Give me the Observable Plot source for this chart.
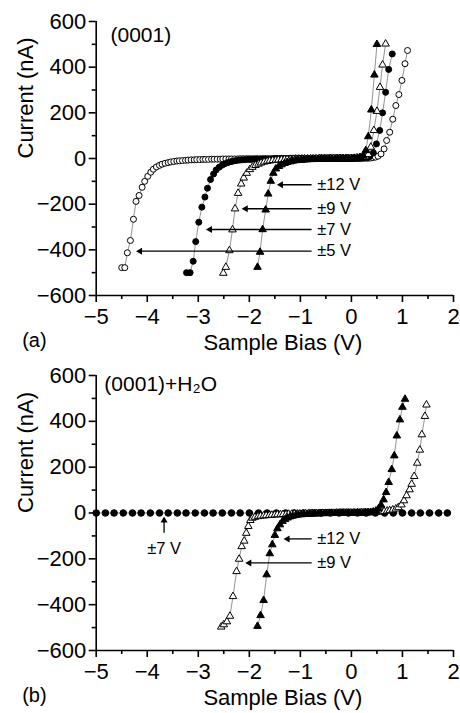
<!DOCTYPE html>
<html><head><meta charset="utf-8">
<script src="https://cdn.jsdelivr.net/npm/d3@7"></script>
<script src="https://cdn.jsdelivr.net/npm/@observablehq/plot@0.6"></script>
<style>
body{margin:0;background:#fff;}
#chart{width:460px;}
#chart svg{display:block;}
</style></head><body><div id="chart"></div>
<script>
// ---- axes ----
const biasTicks = [-5,-4,-3,-2,-1,0,1,2];
const biasMinorTicks = [-4.5,-3.5,-2.5,-1.5,-0.5,0.5,1.5];
const currentTicks = [-600,-400,-200,0,200,400,600];
const currentMinorTicks = [-500,-300,-100,100,300,500];

// ---- panel (a): (0001) ----  [bias V, current nA]
const a_pm5V = [[-4.50,-478],[-4.44,-478],[-4.39,-413],[-4.33,-359],[-4.27,-266],[-4.22,-188],[-4.16,-162],[-4.10,-126],[-4.05,-100],[-3.99,-78],[-3.93,-60],[-3.88,-47],[-3.82,-37],[-3.76,-30],[-3.71,-25],[-3.65,-21],[-3.59,-18],[-3.54,-15],[-3.48,-13],[-3.42,-11],[-3.37,-10],[-3.31,-9],[-3.25,-8],[-3.20,-7],[-3.14,-6],[-3.08,-6],[-3.03,-5],[-2.97,-5],[-2.91,-4],[-2.86,-4],[-2.80,-4],[-2.74,-3],[-2.69,-3],[-2.63,-3],[-2.57,-3],[-2.52,-2],[-2.46,-2],[-2.40,-2],[-2.35,-2],[-2.29,-2],[-2.23,-2],[-2.18,-1],[-2.12,-1],[-2.06,-1],[-2.01,-1],[-1.95,-1],[-1.89,-1],[-1.84,-1],[-1.78,-1],[-1.72,-1],[-1.67,-1],[-1.61,-1],[-1.55,-1],[-1.50,0],[-1.44,0],[-1.38,0],[-1.33,0],[-1.27,0],[-1.21,0],[-1.16,0],[-1.10,0],[-1.04,0],[-0.99,0],[-0.93,0],[-0.87,0],[-0.82,0],[-0.76,0],[-0.70,0],[-0.65,0],[-0.59,0],[-0.53,0],[-0.48,0],[-0.42,0],[-0.36,0],[-0.31,0],[-0.25,0],[-0.19,0],[-0.14,0],[-0.08,0],[-0.02,0],[0.03,0],[0.09,0],[0.15,0],[0.20,0],[0.26,1],[0.32,1],[0.37,2],[0.42,4],[0.47,6],[0.52,10],[0.58,20],[0.64,42],[0.69,79],[0.75,115],[0.81,172],[0.87,232],[0.93,280],[0.99,342],[1.05,415],[1.10,473]];
const a_pm7V = [[-3.23,-500],[-3.16,-500],[-3.10,-450],[-3.05,-364],[-2.99,-279],[-2.93,-213],[-2.87,-169],[-2.82,-130],[-2.76,-92],[-2.70,-68],[-2.65,-50],[-2.59,-38],[-2.53,-29],[-2.48,-23],[-2.42,-18],[-2.36,-14],[-2.31,-11],[-2.25,-9],[-2.19,-7],[-2.14,-6],[-2.08,-5],[-2.02,-4],[-1.97,-4],[-1.91,-3],[-1.85,-3],[-1.80,-3],[-1.74,-2],[-1.68,-2],[-1.63,-2],[-1.57,-2],[-1.51,-1],[-1.46,-1],[-1.40,-1],[-1.34,-1],[-1.29,-1],[-1.23,-1],[-1.17,-1],[-1.12,0],[-1.06,0],[-1.00,0],[-0.95,0],[-0.89,0],[-0.83,0],[-0.78,0],[-0.72,0],[-0.66,0],[-0.61,0],[-0.55,0],[-0.49,0],[-0.44,0],[-0.38,0],[-0.32,0],[-0.27,0],[-0.21,0],[-0.15,0],[-0.10,0],[-0.04,0],[0.02,0],[0.07,1],[0.13,1],[0.19,2],[0.24,3],[0.30,4],[0.36,9],[0.43,25],[0.49,64],[0.555,123],[0.61,200],[0.67,290],[0.73,390],[0.80,458]];
const a_pm9V = [[-2.51,-502],[-2.46,-476],[-2.39,-403],[-2.33,-312],[-2.28,-220],[-2.22,-152],[-2.16,-111],[-2.11,-85],[-2.05,-64],[-1.99,-48],[-1.94,-38],[-1.88,-30],[-1.82,-24],[-1.77,-19],[-1.71,-15],[-1.65,-12],[-1.60,-10],[-1.54,-8],[-1.48,-7],[-1.43,-6],[-1.37,-5],[-1.31,-4],[-1.26,-4],[-1.20,-3],[-1.14,-3],[-1.09,-2],[-1.03,-2],[-0.97,-2],[-0.92,-1],[-0.86,-1],[-0.80,-1],[-0.75,-1],[-0.69,-1],[-0.63,0],[-0.58,0],[-0.52,0],[-0.46,0],[-0.41,0],[-0.35,0],[-0.29,0],[-0.24,0],[-0.18,0],[-0.12,0],[-0.07,0],[-0.01,0],[0.05,1],[0.10,2],[0.16,3],[0.22,5],[0.27,8],[0.33,18],[0.38,50],[0.44,123],[0.50,207],[0.56,312],[0.61,410],[0.67,502]];
const a_pm12V = [[-1.84,-476],[-1.79,-410],[-1.74,-311],[-1.68,-225],[-1.63,-155],[-1.58,-99],[-1.53,-64],[-1.48,-45],[-1.42,-34],[-1.37,-27],[-1.31,-21],[-1.26,-17],[-1.20,-14],[-1.15,-11],[-1.09,-9],[-1.04,-8],[-0.98,-7],[-0.93,-6],[-0.87,-5],[-0.82,-4],[-0.76,-4],[-0.71,-3],[-0.65,-3],[-0.60,-2],[-0.54,-2],[-0.49,-2],[-0.43,-1],[-0.38,-1],[-0.32,-1],[-0.27,-1],[-0.21,0],[-0.16,0],[-0.10,0],[-0.05,0],[0.01,0],[0.06,1],[0.12,2],[0.17,5],[0.23,12],[0.28,35],[0.33,96],[0.39,213],[0.45,366],[0.50,500]];

// ---- panel (b): (0001)+H2O ----
const b_pm7V = [[-5.00,0],[-4.82,0],[-4.65,0],[-4.47,0],[-4.29,0],[-4.12,0],[-3.94,0],[-3.76,0],[-3.59,0],[-3.41,0],[-3.24,0],[-3.06,0],[-2.88,0],[-2.71,0],[-2.53,0],[-2.35,0],[-2.18,0],[-2.00,0],[-1.82,0],[-1.65,0],[-1.47,0],[-1.29,0],[-1.12,0],[-0.94,0],[-0.76,0],[-0.59,0],[-0.41,0],[-0.24,0],[-0.06,0],[0.12,0],[0.29,0],[0.47,0],[0.65,0],[0.82,0],[1.00,0],[1.18,0],[1.35,0],[1.53,0],[1.71,0],[1.88,0]];
const b_pm9V = [[-2.55,-497],[-2.50,-487],[-2.44,-474],[-2.38,-450],[-2.32,-364],[-2.25,-255],[-2.20,-201],[-2.15,-146],[-2.10,-122],[-2.06,-88],[-2.02,-58],[-1.98,-32],[-1.94,-22],[-1.89,-18],[-1.83,-15],[-1.78,-13],[-1.72,-12],[-1.67,-11],[-1.61,-10],[-1.56,-9],[-1.50,-8],[-1.45,-7],[-1.39,-7],[-1.34,-6],[-1.28,-6],[-1.23,-5],[-1.17,-5],[-1.12,-4],[-1.06,-4],[-1.01,-4],[-0.95,-3],[-0.90,-3],[-0.84,-3],[-0.79,-2],[-0.73,-2],[-0.68,-2],[-0.62,-2],[-0.57,-1],[-0.51,-1],[-0.46,-1],[-0.40,-1],[-0.35,-1],[-0.29,0],[-0.24,0],[-0.18,0],[-0.13,0],[-0.07,0],[-0.02,0],[0.04,0],[0.09,0],[0.15,0],[0.20,1],[0.26,1],[0.31,1],[0.37,2],[0.42,3],[0.48,4],[0.53,5],[0.59,6],[0.64,7],[0.70,9],[0.75,11],[0.81,14],[0.87,18],[0.92,24],[0.98,36],[1.03,54],[1.08,76],[1.14,102],[1.18,126],[1.23,160],[1.29,218],[1.34,275],[1.38,342],[1.44,422],[1.47,472]];
const b_pm12V = [[-1.84,-494],[-1.78,-447],[-1.72,-381],[-1.66,-269],[-1.60,-177],[-1.55,-138],[-1.50,-97],[-1.45,-68],[-1.40,-51],[-1.35,-36],[-1.30,-28],[-1.25,-21],[-1.20,-16],[-1.15,-13],[-1.09,-10],[-1.04,-8],[-0.98,-7],[-0.93,-6],[-0.87,-5],[-0.82,-4],[-0.76,-4],[-0.71,-3],[-0.65,-3],[-0.60,-2],[-0.54,-2],[-0.49,-2],[-0.43,-1],[-0.38,-1],[-0.32,-1],[-0.27,-1],[-0.21,0],[-0.16,0],[-0.10,0],[-0.05,0],[0.01,0],[0.06,0],[0.12,1],[0.17,1],[0.23,1],[0.28,2],[0.33,2],[0.38,3],[0.43,5],[0.48,9],[0.53,18],[0.58,35],[0.63,58],[0.68,90],[0.73,134],[0.79,190],[0.84,250],[0.89,337],[0.95,407],[1.00,462],[1.05,497]];

// ---- annotations ----
const aArrowLabels = ["±12 V","±9 V","±7 V","±5 V"];
const aArrowCurrent = [-115,-220,-311,-406];
const aArrowHeadBias = [-1.42,-2.11,-2.81,-4.18];
const bArrowLabels = ["±12 V","±9 V"];
const bArrowCurrent = [-113,-218];
const bArrowHeadBias = [-1.29,-2.04];
const arrowTailBias = -0.78;
const arrowLabelBias = -0.67;
const bUpLabel = "±7 V";
const bUpBias = -3.67;
const bUpHeadCurrent = -24;
const bUpTailCurrent = -86;
const bUpLabelCurrent = -155;

const FONT = "'Liberation Sans', Arial, Helvetica, sans-serif";
const rows = a => a.map(([x, y]) => ({x, y}));

function panel({series, arrows, up, tag, tagBias, tagCurrent, letter, height, marginTop, marginBottom}) {
  const marks = [
    Plot.ruleY([-600], {stroke: "#000", strokeWidth: 1.6}),
    Plot.ruleX([-5], {stroke: "#000", strokeWidth: 1.6}),
    Plot.axisX(biasTicks, {tickSize: 7, tickPadding: 6, strokeWidth: 1.6, label: null}),
    Plot.axisX(biasMinorTicks, {tickSize: 4, strokeWidth: 1.6, tickFormat: () => "", label: null}),
    Plot.axisY(currentTicks, {tickSize: 7, tickPadding: 3, strokeWidth: 1.6, label: null}),
    Plot.axisY(currentMinorTicks, {tickSize: 4, strokeWidth: 1.6, tickFormat: () => "", label: null})
  ];
  for (const s of series) {
    const d = rows(s.data);
    marks.push(Plot.line(d, {x: "x", y: "y", stroke: "#777", strokeWidth: 0.8}));
    marks.push(Plot.dot(d, {x: "x", y: "y", symbol: s.symbol, r: s.r, fill: s.fill, stroke: "#000", strokeWidth: 1}));
  }
  const ar = arrows.labels.map((t, i) => ({t, y: arrows.current[i], head: arrows.head[i]}));
  marks.push(Plot.link(ar, {x1: () => arrowTailBias, x2: "head", y1: "y", y2: "y", stroke: "#000", strokeWidth: 1.3}));
  marks.push(Plot.dot(ar, {x: "head", y: "y", symbol: "triangle", rotate: -90, r: 2.6, fill: "#000", stroke: "none", dx: 2}));
  marks.push(Plot.text(ar, {x: () => arrowLabelBias, y: "y", text: "t", textAnchor: "start", fontSize: 16.5}));
  if (up) {
    const u = [{x: up.bias, y1: up.tail, y2: up.head, ly: up.labelY, t: up.label}];
    marks.push(Plot.link(u, {x1: "x", x2: "x", y1: "y1", y2: "y2", stroke: "#000", strokeWidth: 1.3}));
    marks.push(Plot.dot(u, {x: "x", y: "y2", symbol: "triangle", r: 2.6, fill: "#000", stroke: "none", dy: 2}));
    marks.push(Plot.text(u, {x: "x", y: "ly", text: "t", fontSize: 16.5}));
  }
  marks.push(Plot.text([tag], {x: () => tagBias, y: () => tagCurrent, text: d => d, textAnchor: "start", fontSize: 21}));
  marks.push(Plot.text(["Sample Bias (V)"], {frameAnchor: "bottom", dx: 8, dy: 54, fontSize: 22}));
  marks.push(Plot.text(["Current (nA)"], {frameAnchor: "left", rotate: -90, dx: -70.7, fontSize: 22}));
  marks.push(Plot.text([letter], {frameAnchor: "bottom-left", dx: -74, dy: 51, fontSize: 20}));
  return Plot.plot({
    width: 460, height, marginLeft: 95.7, marginRight: 7, marginTop, marginBottom,
    style: {fontFamily: FONT, fontSize: "22px", background: "#fff", color: "#000"},
    x: {domain: [-5, 2]},
    y: {domain: [-600, 600]},
    marks
  });
}

const chart = document.getElementById("chart");
chart.append(panel({
  series: [
    {data: a_pm5V, symbol: "circle", r: 3, fill: "#fff"},
    {data: a_pm7V, symbol: "circle", r: 3, fill: "#000"},
    {data: a_pm9V, symbol: "triangle", r: 2.8, fill: "#fff"},
    {data: a_pm12V, symbol: "triangle", r: 2.8, fill: "#000"}
  ],
  arrows: {labels: aArrowLabels, current: aArrowCurrent, head: aArrowHeadBias},
  tag: "(0001)", tagBias: -4.72, tagCurrent: 539, letter: "(a)",
  height: 362, marginTop: 21, marginBottom: 67
}));
chart.append(panel({
  series: [
    {data: b_pm7V, symbol: "circle", r: 3.3, fill: "#000"},
    {data: b_pm9V, symbol: "triangle", r: 2.8, fill: "#fff"},
    {data: b_pm12V, symbol: "triangle", r: 2.8, fill: "#000"}
  ],
  arrows: {labels: bArrowLabels, current: bArrowCurrent, head: bArrowHeadBias},
  up: {bias: bUpBias, tail: bUpTailCurrent, head: bUpHeadCurrent, labelY: bUpLabelCurrent, label: bUpLabel},
  tag: "(0001)+H₂O", tagBias: -4.84, tagCurrent: 560, letter: "(b)",
  height: 351, marginTop: 13, marginBottom: 63
}));
</script></body></html>
